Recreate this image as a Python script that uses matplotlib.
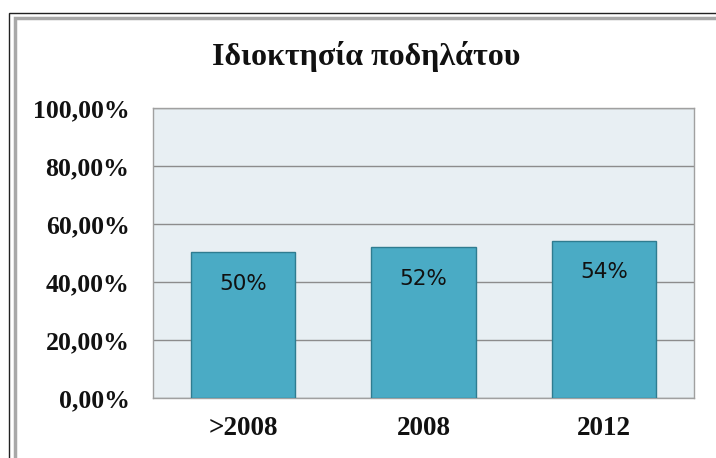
import matplotlib
matplotlib.use("Agg")
import matplotlib.pyplot as plt
from matplotlib.patches import Rectangle
from matplotlib.ticker import FuncFormatter

categories = [">2008", "2008", "2012"]
values = [0.502, 0.522, 0.543]
title = "Ιδιοκτησία ποδηλάτου"
yticks = [0.0, 0.2, 0.4, 0.6, 0.8, 1.0]

W, H = 716, 458
fig = plt.figure(figsize=(W / 100, H / 100), dpi=100)
fig.patch.set_facecolor("white")

# outer frame (dark thin line + light gray thicker line)
fig.add_artist(Rectangle((9 / W, -0.1), 1.2, (H - 13) / H + 0.1, transform=fig.transFigure,
                         fill=False, edgecolor="#222222", linewidth=1.0))
fig.add_artist(Rectangle((14.5 / W, -0.1), 1.2, (H - 17.5) / H + 0.1, transform=fig.transFigure,
                         fill=False, edgecolor="#a8a8a8", linewidth=2.5))

ax = fig.add_axes([153 / W, 1 - 398 / H, (694 - 153) / W, (398 - 108) / H])
ax.set_facecolor("#e8eff3")
ax.set_xlim(-0.5, 2.5)
ax.set_ylim(0, 1)
ax.set_yticks(yticks)
ax.yaxis.set_major_formatter(FuncFormatter(lambda v, p: f"{v*100:.2f}%".replace(".", ",")))
ax.grid(axis="y", color="#8c8c8c", linewidth=1.0)
ax.set_axisbelow(True)
for s in ax.spines.values():
    s.set_color("#a0a0a0")
    s.set_linewidth(1.0)
ax.tick_params(axis="both", length=0)
ax.tick_params(axis="y", pad=17)
ax.tick_params(axis="x", pad=13)

bars = ax.bar(range(len(categories)), values, width=0.58, color="#4aabc5",
              edgecolor="#2f7c90", linewidth=1.0, zorder=3)
for b, v in zip(bars, values):
    ax.annotate(f"{v*100:.0f}%", (b.get_x() + b.get_width() / 2, v), xytext=(0, -23),
                textcoords="offset points", ha="center", va="center",
                fontsize=15.5, family="DejaVu Sans", fontweight="normal", color="#111111", zorder=4)

ax.set_xticks(range(len(categories)))
ax.set_xticklabels(categories)
for lab in ax.get_yticklabels():
    lab.set_fontfamily("Liberation Serif")
    lab.set_fontweight("bold")
    lab.set_fontsize(18.5)
    lab.set_color("#111111")
for lab in ax.get_xticklabels():
    lab.set_fontfamily("Liberation Serif")
    lab.set_fontweight("bold")
    lab.set_fontsize(19.5)
    lab.set_color("#111111")

fig.text(366 / W, 1 - 56 / H, title, ha="center", va="center", fontsize=23,
         fontweight="bold", family="Liberation Serif", color="#111111")

fig.savefig("out.png", dpi=100)
